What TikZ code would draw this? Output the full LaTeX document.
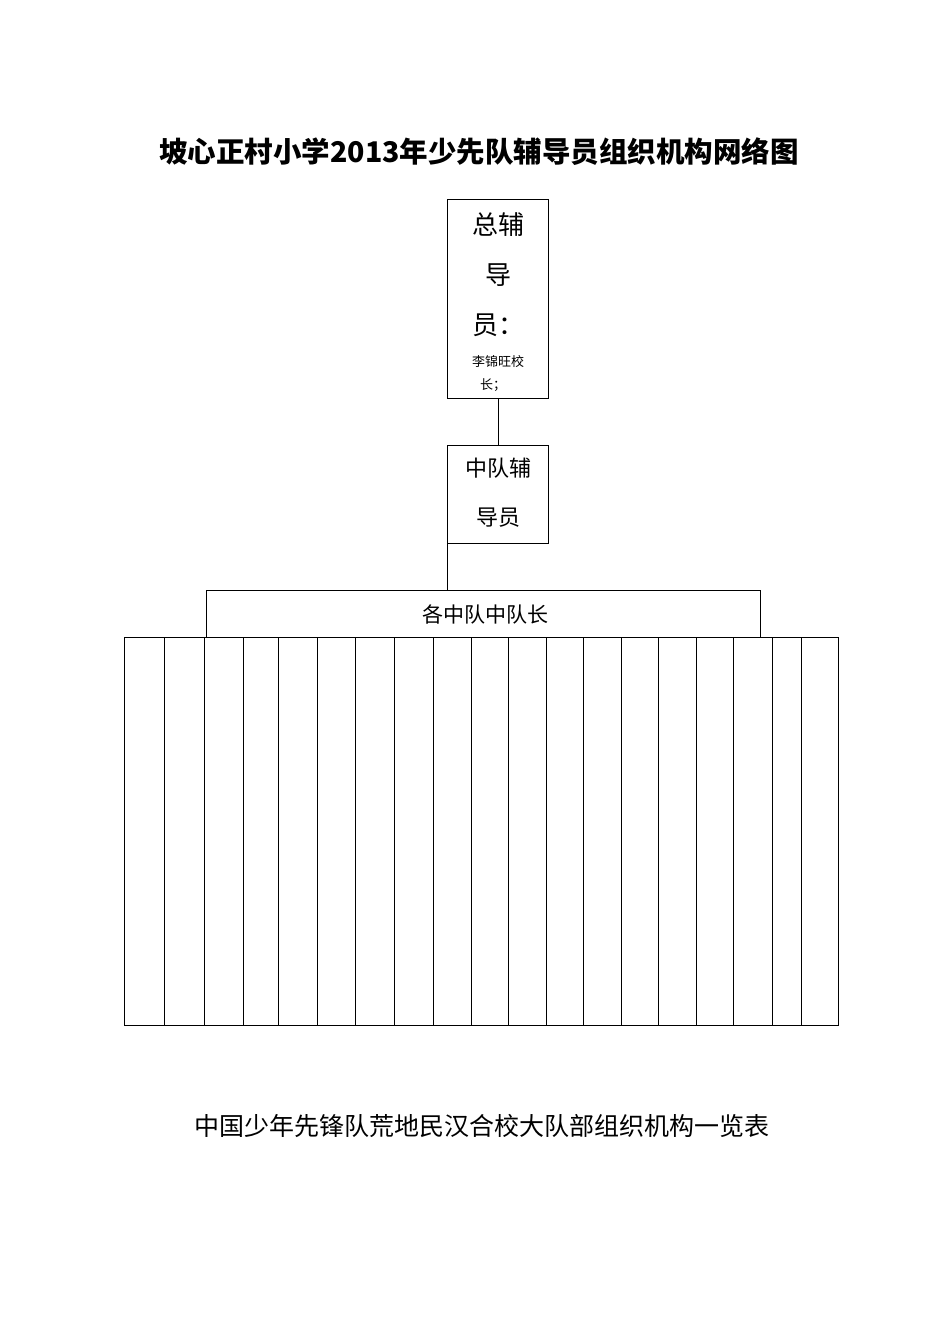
\documentclass[tikz,border=0pt]{standalone}
\usepackage{fontspec}
\newfontfamily\cjk{Noto Sans CJK SC}
\begin{document}
\begin{tikzpicture}[x=1pt,y=-1pt,line width=0.8pt,
  bx/.style={draw,inner sep=0pt},
  t/.style={font=\cjk\fontsize{#1}{#1}\selectfont,inner sep=0pt}]
\useasboundingbox (0,0) rectangle (950,1344);
\node[t=28.5] (title) at (479,152) {\bfseries 坡心正村小学2013年少先队辅导员组织机构网络图};
\draw (447,199) rectangle (548,398);
\coordinate (top) at (498,398);
\node[t=26] (a1) at (498,225) {总辅};
\node[t=26] (a2) at (498,275) {导};
\node[t=26] (a3) at (498,325) {员：};
\node[t=13] (a4) at (498,362) {李锦旺校};
\node[t=13] (a5) at (493,385) {长；};
\draw (447,445) rectangle (548,543);
\coordinate (midt) at (498,445);
\coordinate (midb) at (447,543);
\node[t=22] (b1) at (498,468) {中队辅};
\node[t=22] (b2) at (498,518) {导员};
\draw (top) -- (midt);
\draw (206,637) -- (206,590) -- (760,590) -- (760,637);
\coordinate (bigt) at (447,590);
\draw (midb) -- (bigt);
\node[t=21] (c) at (485,614) {各中队中队长};
\draw (124,637) rectangle (838,1025);
\foreach \x in {164,204,243,278,317,355,394,433,471,508,546,583,621,658,696,733,772,801}
  \draw (\x,637) -- (\x,1025);
\node[t=25] (cap) at (482,1126) {中国少年先锋队荒地民汉合校大队部组织机构一览表};
\end{tikzpicture}
\end{document}
